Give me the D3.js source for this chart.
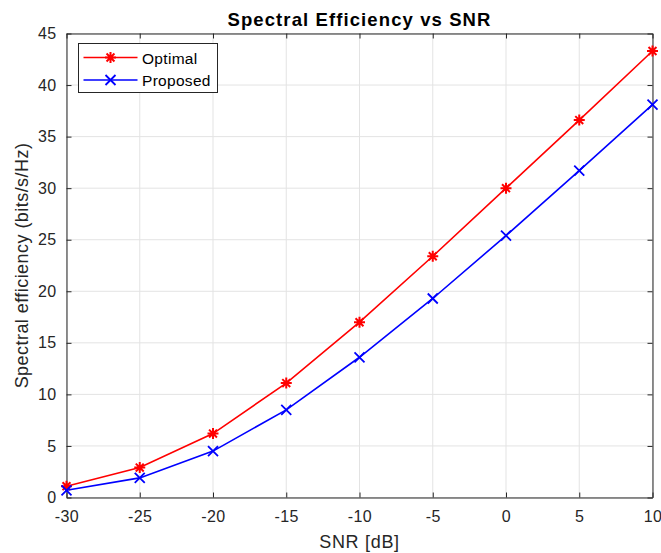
<!DOCTYPE html>
<html>
<head>
<meta charset="utf-8">
<script src="https://cdn.jsdelivr.net/npm/d3@7"></script>
<style>
  body { margin: 0; background: #fff; }
  text { font-family: "Liberation Sans", Arial, sans-serif; }
</style>
</head>
<body>
<div id="chart"></div>
<script>
// Data
const snr = [-30, -25, -20, -15, -10, -5, 0, 5, 10]
const optimal = [1.1, 2.9, 6.2, 11.1, 17.0, 23.4, 30.0, 36.6, 43.3]
const proposed = [0.7, 1.9, 4.5, 8.5, 13.6, 19.3, 25.4, 31.7, 38.1]
const xTicks = [-30, -25, -20, -15, -10, -5, 0, 5, 10]
const yTicks = [0, 5, 10, 15, 20, 25, 30, 35, 40, 45]

const W = 661, H = 553
const margin = { top: 33.5, left: 66.5 }
const innerW = 652.5 - margin.left
const innerH = 497.5 - margin.top

const svg = d3.select("#chart").append("svg")
  .attr("width", W).attr("height", H)

const g = svg.append("g")
  .attr("transform", `translate(${margin.left},${margin.top})`)

const x = d3.scaleLinear().domain([-30, 10]).range([0, innerW])
const y = d3.scaleLinear().domain([0, 45]).range([innerH, 0])

// grid
g.append("g").selectAll("line").data(xTicks).join("line")
  .attr("x1", d => x(d)).attr("x2", d => x(d))
  .attr("y1", 0).attr("y2", innerH)
  .attr("stroke", "#e3e3e3").attr("stroke-width", 1)
g.append("g").selectAll("line").data(yTicks).join("line")
  .attr("x1", 0).attr("x2", innerW)
  .attr("y1", d => y(d)).attr("y2", d => y(d))
  .attr("stroke", "#e3e3e3").attr("stroke-width", 1)

// axes (ticks inward, mirrored on top/right)
const axisColor = "#262626"
const fmt = d => String(d)   // plain hyphen minus, like the reference
function styleAxis(sel) {
  sel.select(".domain").attr("stroke", axisColor)
  sel.selectAll(".tick line").attr("stroke", axisColor)
  sel.selectAll(".tick text").attr("fill", axisColor)
    .style("font-size", "16px")
    .style("letter-spacing", "0.4px")
    .style("font-family", "'Liberation Sans', Arial, sans-serif")
}
g.append("g").attr("transform", `translate(0,${innerH})`)
  .call(d3.axisBottom(x).tickValues(xTicks).tickFormat(fmt).tickSizeInner(-5).tickSizeOuter(0).tickPadding(13))
  .call(styleAxis)
g.append("g")
  .call(d3.axisLeft(y).tickValues(yTicks).tickFormat(fmt).tickSizeInner(-5).tickSizeOuter(0).tickPadding(10))
  .call(styleAxis)
g.append("g")
  .call(d3.axisTop(x).tickValues(xTicks).tickSizeInner(-5).tickSizeOuter(0).tickFormat(""))
  .call(styleAxis)
g.append("g").attr("transform", `translate(${innerW},0)`)
  .call(d3.axisRight(y).tickValues(yTicks).tickSizeInner(-5).tickSizeOuter(0).tickFormat(""))
  .call(styleAxis)

// lines
const line = d3.line().x(d => x(d[0])).y(d => y(d[1]))
const series = [
  { name: "Optimal", values: optimal, color: "#ff0000", marker: "star" },
  { name: "Proposed", values: proposed, color: "#0000ff", marker: "cross" }
]

function drawMarker(sel, type, color) {
  if (type === "star") {
    const r = 5.5, d = r * 0.72
    sel.append("path")
      .attr("d", `M${-r},0H${r}M0,${-r}V${r}M${-d},${-d}L${d},${d}M${-d},${d}L${d},${-d}`)
      .attr("stroke", color).attr("stroke-width", 2).attr("fill", "none")
  } else {
    const c = 5
    sel.append("path")
      .attr("d", `M${-c},${-c}L${c},${c}M${-c},${c}L${c},${-c}`)
      .attr("stroke", color).attr("stroke-width", 1.8).attr("fill", "none")
  }
}

series.forEach(s => {
  const pts = snr.map((v, i) => [v, s.values[i]])
  g.append("path").datum(pts)
    .attr("d", line).attr("fill", "none")
    .attr("stroke", s.color).attr("stroke-width", 1.6)
  pts.forEach(p => {
    const m = g.append("g").attr("transform", `translate(${x(p[0])},${y(p[1])})`)
    drawMarker(m, s.marker, s.color)
  })
})

// title and labels
svg.append("text")
  .attr("x", margin.left + innerW / 2).attr("y", 26)
  .attr("text-anchor", "middle")
  .style("font-size", "18.5px").style("font-weight", "bold")
  .style("letter-spacing", "1.1px")
  .attr("fill", "#000")
  .text("Spectral Efficiency vs SNR")

svg.append("text")
  .attr("x", margin.left + innerW / 2).attr("y", 548)
  .attr("text-anchor", "middle")
  .style("font-size", "18px").style("letter-spacing", "0.7px")
  .attr("fill", axisColor)
  .text("SNR [dB]")

svg.append("text")
  .attr("transform", `translate(28,${margin.top + innerH / 2}) rotate(-90)`)
  .attr("text-anchor", "middle")
  .style("font-size", "18px").style("letter-spacing", "0.45px")
  .attr("fill", axisColor)
  .text("Spectral efficiency (bits/s/Hz)")

// legend
const leg = svg.append("g").attr("transform", "translate(78.5,43.5)")
leg.append("rect").attr("width", 139).attr("height", 49)
  .attr("fill", "#fff").attr("stroke", "#262626").attr("stroke-width", 1)
series.forEach((s, i) => {
  const ly = 14 + i * 22.5
  leg.append("line").attr("x1", 5).attr("x2", 59).attr("y1", ly).attr("y2", ly)
    .attr("stroke", s.color).attr("stroke-width", 1.6)
  const m = leg.append("g").attr("transform", `translate(32,${ly})`)
  drawMarker(m, s.marker, s.color)
  leg.append("text").attr("x", 63.5).attr("y", ly + 6)
    .style("font-size", "15.5px").style("letter-spacing", "0.3px")
    .attr("fill", "#000")
    .text(s.name)
})
</script>
</body>
</html>
